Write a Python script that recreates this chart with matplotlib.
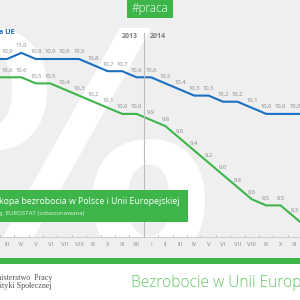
import matplotlib
matplotlib.use("Agg")
import matplotlib.pyplot as plt
from matplotlib.patches import Rectangle, PathPatch
from matplotlib.textpath import TextPath
from matplotlib.font_manager import FontProperties
from matplotlib.transforms import Affine2D

# Feb 2013 .. Dec 2014 (first and last fall outside the crop)
months = ["II", "III", "IV", "V", "VI", "VII", "VIII", "IX", "X", "XI", "XII",
          "I", "II", "III", "IV", "V", "VI", "VII", "VIII", "IX", "X", "XI", "XII"]
eu = [10.9, 10.9, 11.0, 10.9, 10.9, 10.9, 10.9, 10.8, 10.7, 10.7, 10.6,
      10.6, 10.5, 10.4, 10.3, 10.3, 10.2, 10.2, 10.1, 10.0, 10.0, 10.0, 10.0]
pl = [10.6, 10.6, 10.6, 10.5, 10.5, 10.4, 10.3, 10.2, 10.1, 10.0, 10.0,
      9.9, 9.8, 9.6, 9.4, 9.2, 9.0, 8.8, 8.6, 8.5, 8.5, 8.3, 8.1]
years = ["2013", "2014"]

BG = "#efefef"
GREEN = "#3db54a"
BLUE = "#1b6fc2"
GREY = "#8a8a8a"

W = H = 300.0


def fx(px):
    return px / W


def fy(py):
    return 1 - py / H


fig = plt.figure(figsize=(3, 3), dpi=100, facecolor=BG)
plt.rcParams["font.family"] = ["Open Sans", "DejaVu Sans"]

# chart axes over the whole picture, month index -> x, percent -> y
ax = fig.add_axes([0, 0, 1, 1])
ax.set_facecolor("none")
x = list(range(-1, len(months) - 1))
ax.set_xlim(-7 / 14.4, 293 / 14.4)
ax.set_ylim(10.9 - 241 / 61, 10.9 + 59 / 61)
ax.axis("off")

# watermark "%" glyph fitted into a pixel box
tp = TextPath((0, 0), "%", size=1, prop=FontProperties(family="DejaVu Sans", weight="bold"))
ext = tp.get_extents()
gx0, gx1, gtop, gbot = -65, 205, 28, 262
tf = (Affine2D().translate(-ext.x0, -ext.y0)
      .scale((gx1 - gx0) / ext.width / W, (gbot - gtop) / ext.height / H)
      .translate(fx(gx0), fy(gbot)) + fig.transFigure)
fig.add_artist(PathPatch(tp, transform=tf, facecolor="white", edgecolor="none", zorder=-2))
fig.add_artist(Rectangle((0, fy(258)), 1, fy(237) - fy(258), transform=fig.transFigure,
                         facecolor=BG, edgecolor="none", zorder=-1))

ax.plot(x, eu, color=BLUE, lw=1.5, solid_joinstyle="miter")
ax.plot(x, pl, color=GREEN, lw=1.5, solid_joinstyle="miter")
for xi, a, b in list(zip(x, eu, pl))[1:-1]:
    ax.annotate(f"{a:.1f}".replace(".", ","), (xi, a), xytext=(0, 3.5), textcoords="offset points",
                ha="center", va="bottom", fontsize=4.2, color=GREY)
    ax.annotate(f"{b:.1f}".replace(".", ","), (xi, b), xytext=(0, 3.5), textcoords="offset points",
                ha="center", va="bottom", fontsize=4.2, color=GREY)

# year divider and x axis
tr = ax.get_xaxis_transform()
ax.plot([9.5, 9.5], [fy(33), fy(237)], transform=tr, color="#bdbdbd", lw=0.8)
ax.text(9.1, fy(36), years[0], transform=tr, ha="right", va="center", fontsize=5,
        fontweight="bold", color="#7a7a7a")
ax.text(9.9, fy(36), years[1], transform=tr, ha="left", va="center", fontsize=5,
        fontweight="bold", color="#7a7a7a")
ax.plot([-1, 22], [fy(237), fy(237)], transform=tr, color="#cfcfcf", lw=0.8)
for xi, m in zip(x, months):
    ax.plot([xi + 0.5, xi + 0.5], [fy(237), fy(235)], transform=tr, color="#bdbdbd", lw=0.6)
    if 0 <= xi <= 20:
        ax.text(xi, fy(244), m, transform=tr, ha="center", va="center", fontsize=4.3, color=GREY)

# legend label top left
fig.text(fx(-1), fy(33), "a UE", ha="left", va="center", fontsize=5.2, fontweight="bold", color=BLUE)

# #praca tag
fig.add_artist(Rectangle((fx(127), fy(18)), fx(173) - fx(127), fy(0) - fy(18), transform=fig.transFigure,
                         facecolor=GREEN, edgecolor="none", zorder=1))
fig.text(fx(150), fy(8.5), "#praca", ha="center", va="center", fontsize=8.5, color="white",
         fontweight="light", zorder=2)

# title box
fig.add_artist(Rectangle((0, fy(222)), fx(188), fy(190) - fy(222), transform=fig.transFigure,
                         facecolor=GREEN, edgecolor="none", zorder=1))
fig.text(fx(-1), fy(202), "kopa bezrobocia w Polsce i Unii Europejskiej", ha="left", va="center",
         fontsize=6.3, color="white", zorder=2)
fig.text(fx(-1), fy(213), "g. EUROSTAT (odsezonowana)", ha="left", va="center",
         fontsize=4.4, color="#e4f4e4", zorder=2)

# footer
fig.add_artist(Rectangle((0, fy(264)), 1, fy(258) - fy(264), transform=fig.transFigure,
                         facecolor=GREEN, edgecolor="none", zorder=1))
fig.add_artist(Rectangle((0, 0), 1, fy(264), transform=fig.transFigure,
                         facecolor="white", edgecolor="none", zorder=1))
fig.text(fx(52), fy(278), "Ministerstwo  Pracy", ha="right", va="center", fontsize=5.8,
         family="Liberation Serif", color="#555555", zorder=2)
fig.text(fx(52), fy(286.5), "i Polityki Społecznej", ha="right", va="center", fontsize=5.8,
         family="Liberation Serif", color="#555555", zorder=2)
fig.text(fx(131), fy(283), "Bezrobocie w Unii Europejskiej", ha="left", va="center", fontsize=11.2,
         fontweight="light", color="#62c662", zorder=2)

fig.savefig("out.png", dpi=100, facecolor=BG)
